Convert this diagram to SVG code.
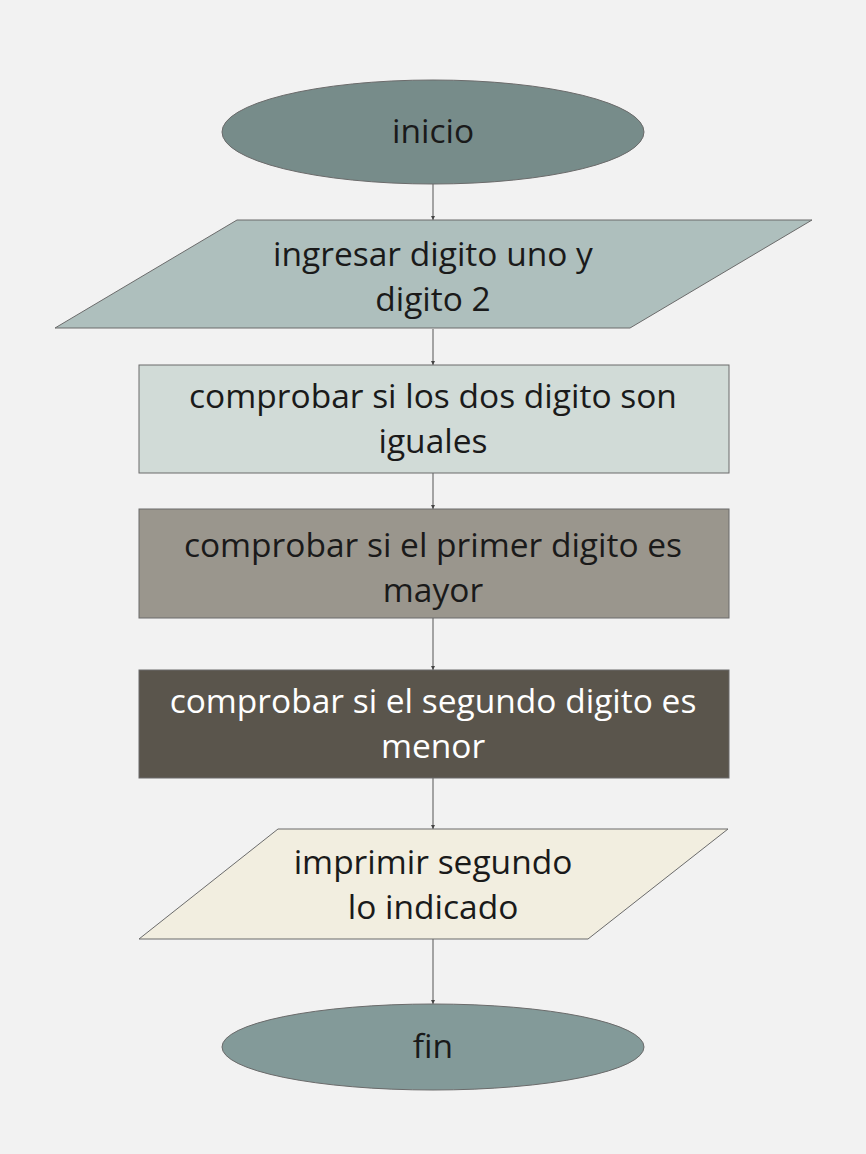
<svg xmlns="http://www.w3.org/2000/svg" width="866" height="1154" viewBox="0 0 866 1154">
<style>
.t{font-family:"Open Sans","Noto Sans",sans-serif;font-size:33.5px;text-anchor:middle;fill:#1a1a1a}
.w{fill:#ffffff}
.c{stroke:#555555;stroke-width:1;fill:none}
.s{stroke:#6b6b6b;stroke-width:1}
</style>
<defs>
<marker id="a" markerWidth="4" markerHeight="4" refX="4" refY="2" orient="auto" markerUnits="userSpaceOnUse">
<path d="M0,0 L4,2 L0,4 Z" fill="#444"/>
</marker>
</defs>
<rect width="866" height="1154" fill="#f2f2f2"/>
<g id="connectors">
<line class="c" x1="433" y1="184" x2="433" y2="220" marker-end="url(#a)"/>
<line class="c" x1="433" y1="329" x2="433" y2="365" marker-end="url(#a)"/>
<line class="c" x1="433" y1="473" x2="433" y2="509" marker-end="url(#a)"/>
<line class="c" x1="433" y1="618" x2="433" y2="670" marker-end="url(#a)"/>
<line class="c" x1="433" y1="778" x2="433" y2="829" marker-end="url(#a)"/>
<line class="c" x1="433" y1="939" x2="433" y2="1004" marker-end="url(#a)"/>
</g>
<g id="inicio">
<ellipse class="s" cx="433" cy="132" rx="211" ry="52" fill="#778c8a"/>
<text class="t" x="433" y="143">inicio</text>
</g>
<g id="ingresar">
<polygon class="s" points="237,220 812,220 630,328 55,328" fill="#aebfbd"/>
<text class="t" x="433" y="266">ingresar digito uno y</text>
<text class="t" x="433" y="311">digito 2</text>
</g>
<g id="iguales">
<rect class="s" x="139" y="365" width="590" height="108" fill="#d1dbd7"/>
<text class="t" x="433" y="408">comprobar si los dos digito son</text>
<text class="t" x="433" y="453">iguales</text>
</g>
<g id="mayor">
<rect class="s" x="139" y="509" width="590" height="109" fill="#9a968d"/>
<text class="t" x="433" y="557">comprobar si el primer digito es</text>
<text class="t" x="433" y="602">mayor</text>
</g>
<g id="menor">
<rect class="s" x="139" y="670" width="590" height="108" fill="#5a554c"/>
<text class="t w" x="433" y="713">comprobar si el segundo digito es</text>
<text class="t w" x="433" y="758">menor</text>
</g>
<g id="imprimir">
<polygon class="s" points="278,829 728,829 588,939 139,939" fill="#f2eee0"/>
<text class="t" x="433" y="874">imprimir segundo</text>
<text class="t" x="433" y="919">lo indicado</text>
</g>
<g id="fin">
<ellipse class="s" cx="433" cy="1047" rx="211" ry="43" fill="#839a99"/>
<text class="t" x="433" y="1058">fin</text>
</g>
</svg>
